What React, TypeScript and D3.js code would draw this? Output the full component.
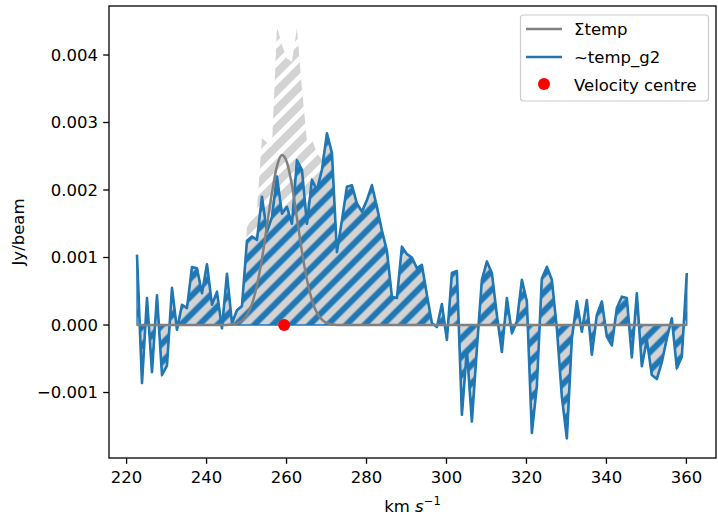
import * as d3 from 'd3';

// channel velocities (km/s)
const velocity = [
  222.6, 223.85, 225.1, 226.35, 227.6, 228.85, 230.1, 231.35, 232.6, 233.85,
  235.1, 236.35, 237.6, 238.85, 240.1, 241.35, 242.6, 243.85, 245.1, 246.35,
  247.6, 248.85, 250.1, 251.35, 252.6, 253.85, 255.1, 256.35, 257.6, 258.85,
  260.1, 261.35, 262.6, 263.85, 265.1, 266.35, 267.6, 268.85, 270.1, 271.35,
  272.6, 273.85, 275.1, 276.35, 277.6, 278.85, 280.1, 281.35, 282.6, 283.85,
  285.1, 286.35, 287.6, 288.85, 290.1, 291.35, 292.6, 293.85, 295.1, 296.35,
  297.6, 298.85, 300.1, 301.35, 302.6, 303.85, 305.1, 306.35, 307.6, 308.85,
  310.1, 311.35, 312.6, 313.85, 315.1, 316.35, 317.6, 318.85, 320.1, 321.35,
  322.6, 323.85, 325.1, 326.35, 327.6, 328.85, 330.1, 331.35, 332.6, 333.85,
  335.1, 336.35, 337.6, 338.85, 340.1, 341.35, 342.6, 343.85, 345.1, 346.35,
  347.6, 348.85, 350.1, 351.35, 352.6, 353.85, 355.1, 356.35, 357.6, 358.85,
  360.1,
];

// ~temp_g2 residual spectrum, mJy/beam
const g2mJy = [
  1.04, -0.86, 0.40, -0.70, 0.44, -0.74, -0.60, 0.55, -0.07, 0.30,
  0.25, 0.86, 0.84, 0.47, 0.90, 0.30, 0.49, -0.05, 0.76, 0.03,
  0.22, 0.28, 1.25, 1.31, 1.26, 1.90, 1.38, 1.60, 2.20, 1.65,
  1.75, 1.50, 2.44, 2.30, 1.50, 2.15, 2.00, 2.30, 2.84, 2.55,
  1.08, 1.55, 2.05, 2.07, 1.80, 1.68, 1.85, 2.07, 1.75, 1.40,
  1.10, 0.42, 0.40, 1.16, 1.05, 1.00, 0.84, 0.89, 0.45, 0.03,
  -0.03, 0.31, -0.22, 0.77, 0.80, -1.33, -0.37, -1.43, -0.35, 0.67,
  0.94, 0.77, 0.15, -0.40, 0.40, -0.12, 0.05, 0.67, 0.35, -1.60,
  -0.90, 0.69, 0.86, 0.67, -0.05, -1.06, -1.68, -0.20, 0.35, -0.10,
  0.37, -0.44, 0.15, 0.35, -0.17, -0.30, 0.25, 0.42, 0.40, -0.48,
  0.47, -0.61, -0.22, -0.74, -0.80, -0.55, -0.20, 0.10, -0.64, -0.47,
  0.77,
];

// full spectrum (grey background fill), mJy/beam
const totalmJy = [
  1.04, -0.86, 0.40, -0.70, 0.44, -0.74, -0.60, 0.55, -0.07, 0.30,
  0.25, 0.86, 0.84, 0.47, 0.90, 0.30, 0.49, -0.05, 0.76, 0.03,
  0.25, 0.33, 1.45, 1.58, 1.70, 2.77, 2.70, 2.64, 4.42, 4.15,
  3.95, 3.90, 4.40, 3.50, 2.74, 2.75, 2.55, 2.45, 2.84, 2.55,
  1.08, 1.55, 2.05, 2.07, 1.80, 1.68, 1.85, 2.07, 1.75, 1.40,
  1.10, 0.42, 0.40, 1.16, 1.05, 1.00, 0.84, 0.89, 0.45, 0.03,
  -0.03, 0.31, -0.22, 0.77, 0.80, -1.33, -0.37, -1.43, -0.35, 0.67,
  0.94, 0.77, 0.15, -0.40, 0.40, -0.12, 0.05, 0.67, 0.35, -1.60,
  -0.90, 0.69, 0.86, 0.67, -0.05, -1.06, -1.68, -0.20, 0.35, -0.10,
  0.37, -0.44, 0.15, 0.35, -0.17, -0.30, 0.25, 0.42, 0.40, -0.48,
  0.47, -0.61, -0.22, -0.74, -0.80, -0.55, -0.20, 0.10, -0.64, -0.47,
  0.77,
];

// Σtemp gaussian model, mJy/beam
const sumTempmJy = [
  0, 0, 0, 0, 0, 0, 0, 0, 0, 0,
  0, 0, 0, 0, 0, 0, 0, 0, 0, 0.01,
  0.025, 0.065, 0.15, 0.31, 0.59, 0.98, 1.47, 1.96, 2.35, 2.52,
  2.41, 2.07, 1.59, 1.09, 0.67, 0.37, 0.18, 0.08, 0.03, 0.01,
  0, 0, 0, 0, 0, 0, 0, 0, 0, 0,
  0, 0, 0, 0, 0, 0, 0, 0, 0, 0,
  0, 0, 0, 0, 0, 0, 0, 0, 0, 0,
  0, 0, 0, 0, 0, 0, 0, 0, 0, 0,
  0, 0, 0, 0, 0, 0, 0, 0, 0, 0,
  0, 0, 0, 0, 0, 0, 0, 0, 0, 0,
  0, 0, 0, 0, 0, 0, 0, 0, 0, 0,
  0,
];

const velocityCentre = [259.4];
const xTicks = [220, 240, 260, 280, 300, 320, 340, 360];
const yTicks = [-0.001, 0, 0.001, 0.002, 0.003, 0.004];
const legendLabels = ['Σtemp', '~temp_g2', 'Velocity centre'];

const BLUE = '#1f77b4';
const FONT = 'DejaVu Sans, sans-serif';
const FS = 16.5;

export default function App() {
  const left = 109, right = 716, top = 6, bottom = 458;
  const x = d3.scaleLinear().domain([215.6, 367.4]).range([left, right]);
  const y = d3.scaleLinear().domain([-0.00197, 0.004726]).range([bottom, top]);
  const fmt = d3.format('.3f');

  const g2 = velocity.map((v, i) => ({ v, f: g2mJy[i] * 1e-3 }));
  const total = velocity.map((v, i) => ({ v, f: totalmJy[i] * 1e-3 }));
  const model = velocity.map((v, i) => ({ v, f: sumTempmJy[i] * 1e-3 }));

  const area = d3.area<{ v: number; f: number }>()
    .x(d => x(d.v))
    .y0(y(0))
    .y1(d => y(d.f));
  const line = d3.line<{ v: number; f: number }>()
    .x(d => x(d.v))
    .y(d => y(d.f));
  const smooth = d3.line<{ v: number; f: number }>()
    .x(d => x(d.v))
    .y(d => y(d.f))
    .curve(d3.curveMonotoneX);

  const lx = 526, ly = 29;

  return (
    <svg width={718} height={519} style={{ position: 'absolute', left: 0, top: 0, background: '#fff' }}
      fontFamily={FONT}>
      <defs>
        <pattern id="hatchWhite" patternUnits="userSpaceOnUse" width={13} height={13}
          patternTransform="rotate(45)">
          <rect width={13} height={13} fill="#d3d3d3" />
          <line x1={6.5} y1={-1} x2={6.5} y2={14} stroke="#ffffff" strokeWidth={5} />
        </pattern>
        <pattern id="hatchBlue" patternUnits="userSpaceOnUse" width={13} height={13}
          patternTransform="rotate(45)">
          <rect width={13} height={13} fill="#d3d3d3" />
          <line x1={6.5} y1={-1} x2={6.5} y2={14} stroke={BLUE} strokeWidth={6} />
        </pattern>
        <clipPath id="plotArea">
          <rect x={left} y={top} width={right - left} height={bottom - top} />
        </clipPath>
      </defs>

      <g clipPath="url(#plotArea)">
        <path d={area(total) ?? ''} fill="url(#hatchWhite)" />
        <path d={area(g2) ?? ''} fill="url(#hatchBlue)" stroke={BLUE} strokeWidth={1.3} />
        <path d={line(g2) ?? ''} fill="none" stroke={BLUE} strokeWidth={2.6} strokeLinejoin="round" />
        <path d={smooth(model) ?? ''} fill="none" stroke="grey" strokeWidth={2.5} />
        {velocityCentre.map(v => (
          <circle key={v} cx={x(v)} cy={y(0)} r={6} fill="red" />
        ))}
      </g>

      {/* axes frame */}
      <rect x={left} y={top} width={right - left} height={bottom - top} fill="none"
        stroke="#000" strokeWidth={1.3} />

      {xTicks.map(t => (
        <g key={t} transform={`translate(${x(t)},${bottom})`}>
          <line y2={5.8} stroke="#000" strokeWidth={1.3} />
          <text y={25} textAnchor="middle" fontSize={FS} fill="#000">{t}</text>
        </g>
      ))}
      {yTicks.map(t => (
        <g key={t} transform={`translate(${left},${y(t)})`}>
          <line x2={-5.8} stroke="#000" strokeWidth={1.3} />
          <text x={-11} dy="0.35em" textAnchor="end" fontSize={FS} fill="#000">{fmt(t)}</text>
        </g>
      ))}

      <text x={(left + right) / 2} y={512} textAnchor="middle" fontSize={FS} fill="#000">
        km <tspan fontStyle="italic">s</tspan>
        <tspan dy={-7} fontSize={FS * 0.7}>−1</tspan>
      </text>
      <text transform={`translate(24,${(top + bottom) / 2}) rotate(-90)`} textAnchor="middle"
        fontSize={FS} fill="#000">Jy/beam</text>

      {/* legend */}
      <g>
        <rect x={520.5} y={15} width={188} height={86} rx={3} fill="#fff" fillOpacity={0.8}
          stroke="#cccccc" strokeWidth={1.2} />
        <line x1={lx} x2={lx + 36} y1={ly} y2={ly} stroke="grey" strokeWidth={2.5} />
        <line x1={lx} x2={lx + 36} y1={ly + 28} y2={ly + 28} stroke={BLUE} strokeWidth={2.5} />
        <circle cx={lx + 18} cy={ly + 55} r={6} fill="red" />
        {legendLabels.map((l, i) => (
          <text key={l} x={574} y={ly + 28 * i} dy="0.35em" fontSize={FS} fill="#000">{l}</text>
        ))}
      </g>
    </svg>
  );
}
